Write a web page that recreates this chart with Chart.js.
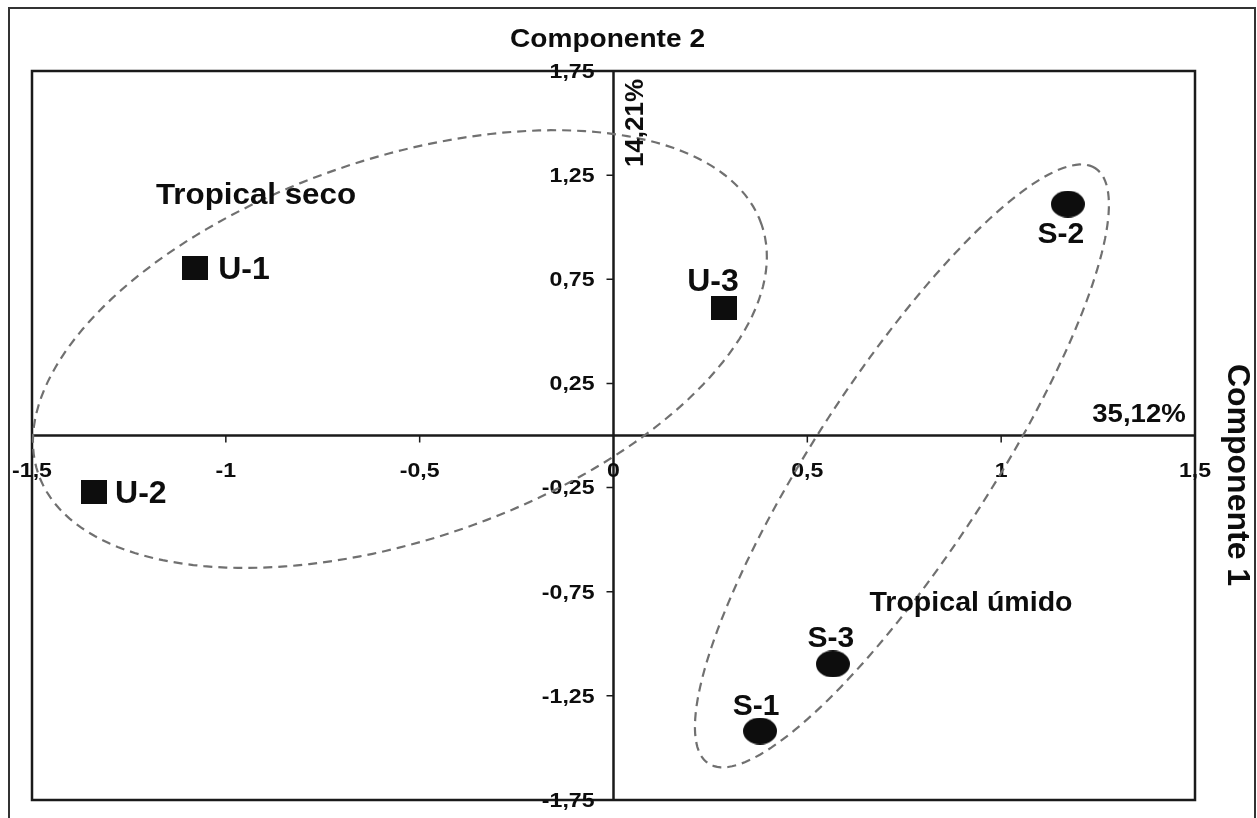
<!DOCTYPE html>
<html>
<head>
<meta charset="utf-8">
<script src="https://cdn.jsdelivr.net/npm/chart.js@4.4.1/dist/chart.umd.min.js"></script>
<style>
html,body{margin:0;padding:0;background:#fff;}
canvas{display:block;}
</style>
</head>
<body>
<canvas id="c" width="1257" height="818"></canvas>
<script>
// ---- data ----
const secoLabels = ['U-1', 'U-2', 'U-3'];
const secoX = [-1.079, -1.340, 0.285];
const secoY = [0.804, -0.271, 0.612];

const umidoLabels = ['S-1', 'S-2', 'S-3'];
const umidoX = [0.378, 1.172, 0.566];
const umidoY = [-1.419, 1.111, -1.097];

const xTicks = [-1.5, -1, -0.5, 0, 0.5, 1, 1.5];
const yTicks = [1.75, 1.25, 0.75, 0.25, -0.25, -0.75, -1.25, -1.75];

const xTitle = 'Componente 1';
const yTitle = 'Componente 2';
const xVar = '35,12%';
const yVar = '14,21%';
const groupNames = ['Tropical seco', 'Tropical úmido'];

// group envelopes (data units: centre + two conjugate semi-axis vectors)
const secoEnvelope = [-0.551, 0.415, 0.933, 0.598, -0.160, 0.864];
const umidoEnvelope = [0.744, -0.146, 0.499, 1.429, -0.190, 0.230];

// ---- styling ----
const FONT = '"Liberation Sans", Arial, Helvetica, sans-serif';
const INK = '#0d0d0d';
const labelOffsets = {
  'U-1': [23, 2, 'left'], 'U-2': [21, 2, 'left'], 'U-3': [-11, -26, 'center'],
  'S-1': [-4, -24, 'center'], 'S-2': [-7, 31, 'center'], 'S-3': [-2, -25, 'center']
};

function fmt(v) { return String(v).replace('.', ','); }

function makeRect(w, h) {
  const c = document.createElement('canvas');
  c.width = w; c.height = h;
  const g = c.getContext('2d');
  g.fillStyle = INK; g.fillRect(0, 0, w, h);
  return c;
}
function makeOval(w, h) {
  const c = document.createElement('canvas');
  c.width = w; c.height = h;
  const g = c.getContext('2d');
  g.fillStyle = INK;
  g.beginPath(); g.ellipse(w / 2, h / 2, w / 2, h / 2, 0, 0, Math.PI * 2); g.fill();
  return c;
}

function drawText(ctx, s, x, y, o) {
  ctx.save();
  ctx.translate(x, y);
  if (o.rot) ctx.rotate(o.rot);
  ctx.scale(o.sx || 1, 1);
  ctx.font = 'bold ' + o.size + 'px ' + FONT;
  ctx.fillStyle = o.color || INK;
  ctx.textAlign = o.align || 'center';
  ctx.textBaseline = 'middle';
  ctx.fillText(s, 0, 0);
  ctx.restore();
}

const decor = {
  id: 'decor',
  beforeDraw(chart) {
    const ctx = chart.ctx;
    ctx.save();
    ctx.fillStyle = '#fff';
    ctx.fillRect(0, 0, chart.width, chart.height);
    // outer frame
    ctx.strokeStyle = '#333';
    ctx.lineWidth = 2;
    ctx.beginPath();
    ctx.moveTo(9, 818); ctx.lineTo(9, 8); ctx.lineTo(1255, 8); ctx.lineTo(1255, 818);
    ctx.stroke();
    ctx.restore();
  },
  beforeDatasetsDraw(chart) {
    const ctx = chart.ctx, xs = chart.scales.x, ys = chart.scales.y;
    const a = chart.chartArea;
    ctx.save();
    // plot box
    ctx.strokeStyle = '#1a1a1a';
    ctx.lineWidth = 2.5;
    ctx.strokeRect(a.left, a.top, a.right - a.left, a.bottom - a.top);
    // axes through the origin
    const x0 = xs.getPixelForValue(0), y0 = ys.getPixelForValue(0);
    ctx.lineWidth = 2.5;
    ctx.beginPath();
    ctx.moveTo(a.left, y0); ctx.lineTo(a.right, y0);
    ctx.moveTo(x0, a.top); ctx.lineTo(x0, a.bottom);
    ctx.stroke();
    // tick marks
    ctx.lineWidth = 1.5;
    ctx.beginPath();
    xTicks.forEach(v => {
      if (v === 0 || Math.abs(v) === 1.5) return;
      const px = xs.getPixelForValue(v);
      ctx.moveTo(px, y0); ctx.lineTo(px, y0 + 7);
    });
    yTicks.forEach(v => {
      if (Math.abs(v) === 1.75) return;
      const py = ys.getPixelForValue(v);
      ctx.moveTo(x0, py); ctx.lineTo(x0 - 7, py);
    });
    ctx.stroke();
    // tick labels
    xTicks.forEach(v => {
      drawText(ctx, fmt(v), xs.getPixelForValue(v), y0 + 36, { size: 21, sx: 1.1 });
    });
    yTicks.forEach(v => {
      drawText(ctx, fmt(v), x0 - 19, ys.getPixelForValue(v) + 1, { size: 21, sx: 1.1, align: 'right' });
    });
    // envelopes
    ctx.strokeStyle = '#707070';
    ctx.lineWidth = 2.2;
    ctx.setLineDash([9, 6]);
    [secoEnvelope, umidoEnvelope].forEach(e => {
      ctx.beginPath();
      const n = 180;
      for (let i = 0; i <= n; i++) {
        const t = i / n * Math.PI * 2;
        const dx = e[0] + e[2] * Math.cos(t) + e[4] * Math.sin(t);
        const dy = e[1] + e[3] * Math.cos(t) + e[5] * Math.sin(t);
        const px = xs.getPixelForValue(dx), py = ys.getPixelForValue(dy);
        if (i === 0) ctx.moveTo(px, py); else ctx.lineTo(px, py);
      }
      ctx.closePath();
      ctx.stroke();
    });
    ctx.setLineDash([]);
    ctx.restore();
  },
  afterDatasetsDraw(chart) {
    const ctx = chart.ctx, xs = chart.scales.x, ys = chart.scales.y;
    const a = chart.chartArea;
    const x0 = xs.getPixelForValue(0), y0 = ys.getPixelForValue(0);
    // point labels
    const pl = (labels, X, Y, size) => labels.forEach((l, i) => {
      const o = labelOffsets[l];
      drawText(ctx, l, xs.getPixelForValue(X[i]) + o[0], ys.getPixelForValue(Y[i]) + o[1], { size: size, align: o[2] });
    });
    pl(secoLabels, secoX, secoY, 32);
    pl(umidoLabels, umidoX, umidoY, 30);
    // titles
    drawText(ctx, yTitle, x0 - 6, 40, { size: 26, sx: 1.08 });
    drawText(ctx, yVar, x0 + 22, a.top + 52, { size: 26, rot: -Math.PI / 2 });
    drawText(ctx, xVar, a.right - 56, y0 - 21, { size: 26, sx: 1.06 });
    drawText(ctx, xTitle, 1237, 475, { size: 32, rot: Math.PI / 2 });
    drawText(ctx, groupNames[0], 256, 196, { size: 29, sx: 1.08 });
    drawText(ctx, groupNames[1], 971, 603, { size: 28, sx: 1.02 });
  }
};

const toPts = (X, Y) => X.map((v, i) => ({ x: v, y: Y[i] }));

new Chart(document.getElementById('c'), {
  type: 'scatter',
  data: {
    datasets: [
      { label: groupNames[0], data: toPts(secoX, secoY), pointStyle: makeRect(26, 24), pointRadius: 13, backgroundColor: INK, borderColor: INK },
      { label: groupNames[1], data: toPts(umidoX, umidoY), pointStyle: makeOval(34, 27), pointRadius: 15, backgroundColor: INK, borderColor: INK }
    ]
  },
  options: {
    responsive: false,
    animation: false,
    devicePixelRatio: 1,
    layout: { padding: { left: 32, right: 62, top: 71, bottom: 18 } },
    plugins: { legend: { display: false }, tooltip: { enabled: false } },
    scales: {
      x: { type: 'linear', min: -1.5, max: 1.5, display: false },
      y: { type: 'linear', min: -1.75, max: 1.75, display: false }
    }
  },
  plugins: [decor]
});
</script>
</body>
</html>
